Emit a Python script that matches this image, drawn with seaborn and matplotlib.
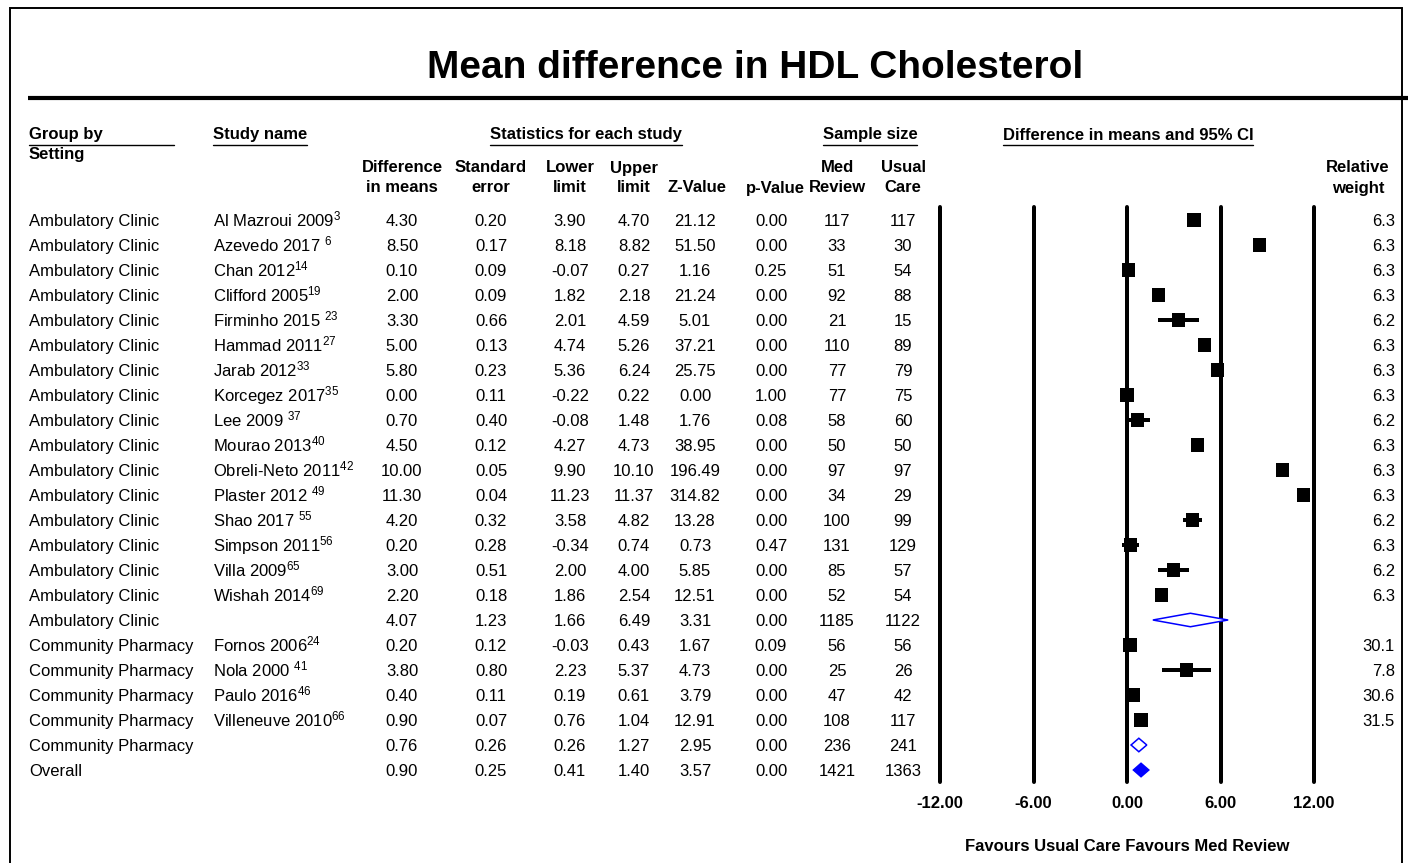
import numpy as np
import pandas as pd
import matplotlib
matplotlib.use("Agg")
import matplotlib.pyplot as plt
from matplotlib.patches import Polygon
from matplotlib.transforms import blended_transform_factory
import seaborn as sns

# ---- data -------------------------------------------------------------
groups = ["Ambulatory Clinic"] * 17 + ["Community Pharmacy"] * 5 + ["Overall"]
studies = [
    "Al Mazroui 2009$^{3}$", "Azevedo 2017 $^{6}$", "Chan 2012$^{14}$",
    "Clifford 2005$^{19}$", "Firminho 2015 $^{23}$", "Hammad 2011$^{27}$",
    "Jarab 2012$^{33}$", "Korcegez 2017$^{35}$", "Lee 2009 $^{37}$",
    "Mourao 2013$^{40}$", "Obreli-Neto 2011$^{42}$", "Plaster 2012 $^{49}$",
    "Shao 2017 $^{55}$", "Simpson 2011$^{56}$", "Villa 2009$^{65}$",
    "Wishah 2014$^{69}$", "",
    "Fornos 2006$^{24}$", "Nola 2000 $^{41}$", "Paulo 2016$^{46}$",
    "Villeneuve 2010$^{66}$", "", "",
]
row_kind = ["study"] * 16 + ["subtotal"] + ["study"] * 4 + ["subtotal", "overall"]
diff = [4.30, 8.50, 0.10, 2.00, 3.30, 5.00, 5.80, 0.00, 0.70, 4.50, 10.00, 11.30,
        4.20, 0.20, 3.00, 2.20, 4.07, 0.20, 3.80, 0.40, 0.90, 0.76, 0.90]
std_err = [0.20, 0.17, 0.09, 0.09, 0.66, 0.13, 0.23, 0.11, 0.40, 0.12, 0.05, 0.04,
           0.32, 0.28, 0.51, 0.18, 1.23, 0.12, 0.80, 0.11, 0.07, 0.26, 0.25]
lower = [3.90, 8.18, -0.07, 1.82, 2.01, 4.74, 5.36, -0.22, -0.08, 4.27, 9.90, 11.23,
         3.58, -0.34, 2.00, 1.86, 1.66, -0.03, 2.23, 0.19, 0.76, 0.26, 0.41]
upper = [4.70, 8.82, 0.27, 2.18, 4.59, 5.26, 6.24, 0.22, 1.48, 4.73, 10.10, 11.37,
         4.82, 0.74, 4.00, 2.54, 6.49, 0.43, 5.37, 0.61, 1.04, 1.27, 1.40]
z_value = [21.12, 51.50, 1.16, 21.24, 5.01, 37.21, 25.75, 0.00, 1.76, 38.95, 196.49,
           314.82, 13.28, 0.73, 5.85, 12.51, 3.31, 1.67, 4.73, 3.79, 12.91, 2.95, 3.57]
p_value = [0.00, 0.00, 0.25, 0.00, 0.00, 0.00, 0.00, 1.00, 0.08, 0.00, 0.00, 0.00,
           0.00, 0.47, 0.00, 0.00, 0.00, 0.09, 0.00, 0.00, 0.00, 0.00, 0.00]
n_med_review = [117, 33, 51, 92, 21, 110, 77, 77, 58, 50, 97, 34, 100, 131, 85, 52,
                1185, 56, 25, 47, 108, 236, 1421]
n_usual_care = [117, 30, 54, 88, 15, 89, 79, 75, 60, 50, 97, 29, 99, 129, 57, 54,
                1122, 56, 26, 42, 117, 241, 1363]
rel_weight = [6.3, 6.3, 6.3, 6.3, 6.2, 6.3, 6.3, 6.3, 6.2, 6.3, 6.3, 6.3, 6.2, 6.3,
              6.2, 6.3, np.nan, 30.1, 7.8, 30.6, 31.5, np.nan, np.nan]
axis_ticks = [-12, -6, 0, 6, 12]
axis_labels = ["-12.00", "-6.00", "0.00", "6.00", "12.00"]

df = pd.DataFrame({
    "group": groups, "study": studies, "kind": row_kind, "diff": diff,
    "se": std_err, "lower": lower, "upper": upper, "z": z_value, "p": p_value,
    "n_med": n_med_review, "n_usual": n_usual_care, "weight": rel_weight,
})
df["row"] = np.arange(len(df))

# ---- style ------------------------------------------------------------
sns.set_theme(style="white")
plt.rcParams["font.family"] = ["Liberation Sans", "DejaVu Sans"]
plt.rcParams["mathtext.fontset"] = "custom"
plt.rcParams["mathtext.rm"] = "Liberation Sans"
plt.rcParams["mathtext.it"] = "Liberation Sans:italic"
plt.rcParams["mathtext.bf"] = "Liberation Sans:bold"
plt.rcParams["mathtext.default"] = "regular"
plt.rcParams["text.color"] = "black"
plt.rcParams["axes.labelcolor"] = "black"
plt.rcParams["xtick.color"] = "black"

W, H = 1408, 863
FS = 12
fig = plt.figure(figsize=(W / 100, H / 100), dpi=100)
fig.patch.set_facecolor("white")

# pixel-space canvas for the frame and the table layout
bg = fig.add_axes([0, 0, 1, 1])
bg.set_xlim(0, W)
bg.set_ylim(H, 0)
bg.axis("off")

# forest panel: -12..12 across x 940..1314 px, rows 0..22 at y 220 + 25*row
ax_left, ax_right, ax_top, ax_bot = 940, 1314, 207, 782
ax = fig.add_axes([ax_left / W, 1 - ax_bot / H, (ax_right - ax_left) / W,
                   (ax_bot - ax_top) / H])
ax.set_xlim(-12, 12)
ax.set_ylim((ax_bot - 220) / 25, (ax_top - 220) / 25)
ax.patch.set_alpha(0)
for sp in ax.spines.values():
    sp.set_visible(False)
ax.grid(False)

lw_px = 4 * 0.72
for t in axis_ticks:
    ax.axvline(t, color="black", lw=lw_px, clip_on=False, zorder=1)

# confidence intervals and study squares
st = df[df["kind"] == "study"]
ax.hlines(st["row"], st["lower"], st["upper"], color="black", lw=lw_px, zorder=2)
side_pt = (12.8 + 0.045 * st["weight"]) * 0.72
sns.scatterplot(data=st, x="diff", y="row", marker="s", s=side_pt ** 2,
                color="black", edgecolor="none", linewidth=0, ax=ax,
                zorder=3, clip_on=False, legend=False)

ax.set_yticks([])
ax.set_ylabel("")
ax.set_xticks(axis_ticks)
ax.set_xticklabels(axis_labels, fontweight="bold", fontsize=FS, color="black")
ax.tick_params(axis="x", length=0, pad=10)
ax.set_xlabel("Favours Usual Care Favours Med Review", fontweight="bold",
              fontsize=FS, labelpad=20, color="black")

# pooled estimates as diamonds
half_h = 0.27
for _, r in df[df["kind"] != "study"].iterrows():
    pts = [(r["lower"], r["row"]), (r["diff"], r["row"] - half_h),
           (r["upper"], r["row"]), (r["diff"], r["row"] + half_h)]
    filled = r["kind"] == "overall"
    ax.add_patch(Polygon(pts, closed=True, facecolor="#0000ff" if filled else "white",
                         edgecolor="#0000ff", lw=1.1, zorder=4, clip_on=False))

# ---- table text ---------------------------------------------------------
tr = blended_transform_factory(bg.transData, ax.transData)
BASE = 0.24  # baseline sits about half a cap height below the row centre

def fmt2(v):
    return f"{v:.2f}"

columns = [
    (402, "diff", fmt2), (491, "se", fmt2), (570, "lower", fmt2),
    (634, "upper", fmt2), (695, "z", fmt2), (771, "p", fmt2),
    (837, "n_med", lambda v: f"{int(v)}"), (903, "n_usual", lambda v: f"{int(v)}"),
]
row_txt = dict(transform=tr, fontsize=FS, va="baseline")
for _, r in df.iterrows():
    y = r["row"] + BASE
    bg.text(29, y, r["group"], ha="left", **row_txt)
    if r["study"]:
        bg.text(213, y, r["study"], ha="left", **row_txt)
    for x, key, f in columns:
        bg.text(x, y, f(r[key]), ha="center", **row_txt)
    if not np.isnan(r["weight"]):
        bg.text(1395, y, f"{r['weight']:.1f}", ha="right", **row_txt)

# column headers
hdr = dict(fontsize=FS, fontweight="bold", va="center")
top_headers = [
    bg.text(213, 135, "Study name", ha="left", **hdr),
    bg.text(586, 135, "Statistics for each study", ha="center", **hdr),
    bg.text(870, 135, "Sample size", ha="center", **hdr),
    bg.text(1128, 135, "Difference in means and 95% CI", ha="center", **hdr),
]
bg.text(29, 135, "Group by", ha="left", **hdr)
bg.text(29, 155, "Setting", ha="left", **hdr)
bg.plot([29, 174], [145, 145], color="black", lw=1.0)

sub_headers = [
    (402, "Difference", "in means"), (491, "Standard", "error"),
    (570, "Lower", "limit"), (634, "Upper", "limit"), (697, "", "Z-Value"),
    (775, "", "p-Value"), (837, "Med", "Review"), (903, "Usual", "Care"),
    (1358, "Relative", "weight"),
]
for x, l1, l2 in sub_headers:
    if l1:
        bg.text(x, 168, l1, ha="center", **hdr)
    bg.text(x, 188, l2, ha="center", **hdr)

# underline the top headers
fig.canvas.draw()
renderer = fig.canvas.get_renderer()
inv = bg.transData.inverted()
for t in top_headers:
    bb = t.get_window_extent(renderer)
    (x0, _), (x1, _) = inv.transform([(bb.x0, bb.y0), (bb.x1, bb.y1)])
    bg.plot([x0, x1], [145, 145], color="black", lw=1.0)

# title, rule and frame
bg.text(755, 68, "Mean difference in HDL Cholesterol", ha="center", va="center",
        fontsize=28, fontweight="bold")
bg.plot([28, W], [98, 98], color="black", lw=3.0, solid_capstyle="butt")
bg.plot([10, 10, 1402, 1402], [H, 8, 8, H], color="black", lw=1.4,
        solid_joinstyle="miter")

fig.savefig("out.png", dpi=100, facecolor="white")
